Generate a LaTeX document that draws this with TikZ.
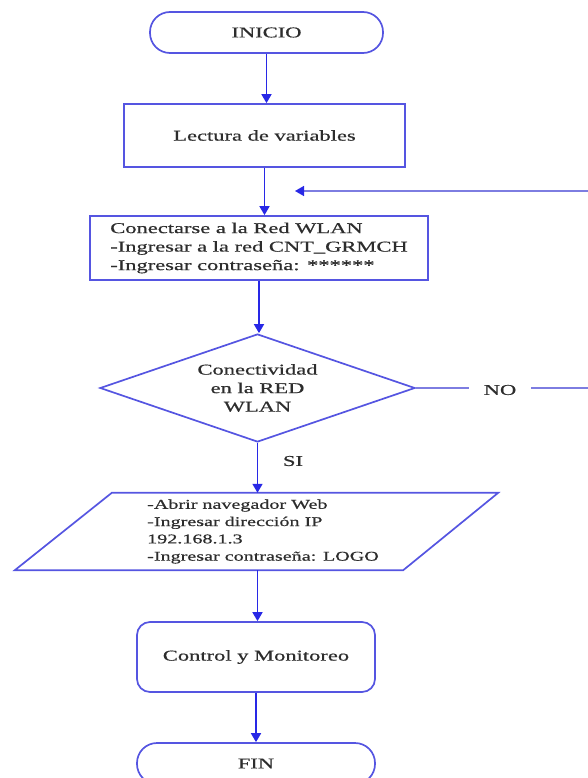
\documentclass[tikz,border=0pt]{standalone}
\usepackage{fontspec}
\setmainfont{Liberation Serif}[FakeStretch=1.5,FakeBold=0.7]
\usetikzlibrary{arrows.meta,shapes.geometric}
\definecolor{shapeblue}{RGB}{85,85,225}
\definecolor{flowblue}{RGB}{40,40,230}
\definecolor{loopblue}{RGB}{125,125,225}
\definecolor{txtgray}{RGB}{45,45,45}

\begin{document}
\begin{tikzpicture}[x=1pt,y=-1pt,
  font=\fontsize{15}{18.5}\selectfont, text=txtgray,
  box/.style={draw=shapeblue, line width=1.7pt, inner sep=0pt, align=center},
  terminal/.style={box, rounded corners=20pt, minimum height=41pt},
  process/.style={box, rectangle},
  decision/.style={box, diamond, aspect=2.9, minimum width=315pt, minimum height=108pt},
  flow/.style={draw=flowblue, line width=1.7pt, -{Triangle[width=10pt,length=9pt]}},
  loopline/.style={draw=loopblue, line width=1.5pt},
  tag/.style={inner sep=0pt},
]
\useasboundingbox (0,0) rectangle (587,778);

% terminals and process boxes
\node[terminal, minimum width=233pt] (inicio) at (266.5,32.5) {INICIO};
\node[process, minimum width=281pt, minimum height=63pt] (lect) at (264.5,135.5) {Lectura de variables};
\node[process, minimum width=338pt, minimum height=64pt, align=left] (red) at (259,248)
  {Conectarse a la Red WLAN\\-Ingresar a la red CNT\_GRMCH\\-Ingresar contraseña: ******};
\node[decision, align=center] (dia) at (257.5,388) {Conectividad\\en la RED\\WLAN};

% input/output block: text node, parallelogram drawn around it
\node[inner sep=0pt, minimum width=386pt, minimum height=77pt, align=left,
      font=\fontsize{13.4}{17.3}\selectfont] (io) at (263,531.5)
  {-Abrir navegador Web\\-Ingresar dirección IP\\192.168.1.3\\-Ingresar contraseña: LOGO};
\draw[draw=shapeblue, line width=1.7pt]
  ([xshift=42pt]io.north west) -- ([xshift=42pt]io.north east)
  -- ([xshift=-53pt]io.south east) -- ([xshift=-55pt]io.south west) -- cycle;

\node[box, rounded corners=13pt, minimum width=238pt, minimum height=70pt] (ctrl) at (256,657) {Control y Monitoreo};
\node[terminal, minimum width=238pt] (fin) at (256,763.5) {FIN};

% labels on the branches
\node[tag, inner xsep=15pt] (no) at (500,390) {NO};
\node[tag] (si) at (293,461) {SI};

% main flow
\draw[flow] (inicio.south) -- (inicio.south |- lect.north);
\draw[flow] (lect.south) -- (lect.south |- red.north);
\draw[flow] (red.south) -- (red.south |- dia.north);
\draw[flow] (dia.south) -- (dia.south |- io.north);
\draw[flow] (dia.south |- io.south) -- (ctrl.north -| dia.south);
\draw[flow] (ctrl.south) -- (fin.north);

% NO branch returning above the connection box
\coordinate (loopT) at (600,191);
\coordinate (back) at (295,191);
\draw[loopline] (dia.east) -- (dia.east -| no.west);
\draw[loopline, -{Triangle[width=10pt,length=9pt,color=flowblue]}]
  (no.east |- dia.east) -- (loopT |- dia.east) -- (loopT) -- (back);
\end{tikzpicture}
\end{document}
